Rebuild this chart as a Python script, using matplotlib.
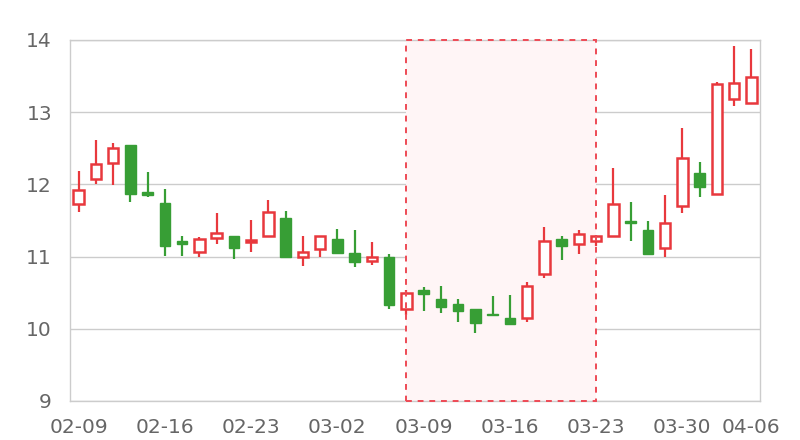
import matplotlib
matplotlib.use("Agg")
import matplotlib.pyplot as plt
from matplotlib.patches import Rectangle
import numpy as np

dates = ["02-09", "02-10", "02-11", "02-12", "02-13",
         "02-16", "02-17", "02-18", "02-19", "02-20",
         "02-23", "02-24", "02-25", "02-26", "02-27",
         "03-02", "03-03", "03-04", "03-05", "03-06",
         "03-09", "03-10", "03-11", "03-12", "03-13",
         "03-16", "03-17", "03-18", "03-19", "03-20",
         "03-23", "03-24", "03-25", "03-26", "03-27",
         "03-30", "03-31", "04-01", "04-02", "04-06"]

opens  = [11.73, 12.08, 12.29, 12.54, 11.90, 11.74, 11.21, 11.06, 11.26, 11.29,
          11.20, 11.29, 11.54, 11.00, 11.10, 11.24, 11.05, 10.94, 11.00, 10.27,
          10.54, 10.41, 10.34, 10.28, 10.21, 10.15, 10.15, 10.76, 11.25, 11.18,
          11.22, 11.29, 11.49, 11.37, 11.12, 11.70, 12.16, 11.87, 13.18, 13.13]
closes = [11.92, 12.28, 12.50, 11.87, 11.85, 11.15, 11.18, 11.24, 11.32, 11.12,
          11.23, 11.62, 10.99, 11.06, 11.28, 11.05, 10.92, 11.00, 10.33, 10.49,
          10.48, 10.30, 10.25, 10.08, 10.19, 10.07, 10.59, 11.21, 11.15, 11.31,
          11.28, 11.73, 11.46, 11.04, 11.47, 12.36, 11.97, 13.39, 13.41, 13.49]
highs  = [12.19, 12.61, 12.57, 12.55, 12.17, 11.94, 11.29, 11.27, 11.61, 11.29,
          11.51, 11.78, 11.63, 11.28, 11.28, 11.38, 11.37, 11.20, 11.04, 10.54,
          10.58, 10.59, 10.41, 10.28, 10.46, 10.47, 10.65, 11.41, 11.29, 11.37,
          11.30, 12.23, 11.76, 11.50, 11.85, 12.78, 12.31, 13.42, 13.91, 13.87]
lows   = [11.62, 12.00, 11.99, 11.75, 11.83, 11.01, 11.01, 11.00, 11.18, 10.97,
          11.06, 11.29, 10.99, 10.87, 11.00, 11.05, 10.86, 10.89, 10.27, 10.19,
          10.24, 10.22, 10.09, 9.94, 10.18, 10.06, 10.09, 10.71, 10.95, 11.04,
          11.15, 11.29, 11.21, 11.04, 11.00, 11.60, 11.83, 11.87, 13.08, 13.13]

yticks = [9, 10, 11, 12, 13, 14]
label_idx = [0, 5, 10, 15, 20, 25, 30, 35, 39]
area_start, area_end = "03-06", "03-23"

RED = "#e8383d"
GREEN = "#379e35"

fig = plt.figure(figsize=(8, 4.4), dpi=100)
ax = fig.add_axes([70/800, 39/440, 690/800, 361/440])

x = np.arange(len(dates))
w = 0.62
for i in x:
    o, c, h, l = opens[i], closes[i], highs[i], lows[i]
    up = c >= o
    col = RED if up else GREEN
    lo_b, hi_b = min(o, c), max(o, c)
    ax.plot([i, i], [hi_b, h], color=col, lw=1.6, zorder=3, solid_capstyle="butt")
    ax.plot([i, i], [l, lo_b], color=col, lw=1.6, zorder=3, solid_capstyle="butt")
    hgt = max(hi_b - lo_b, 0.02)
    if up:
        ax.add_patch(Rectangle((i - w/2, lo_b), w, hgt, facecolor="white",
                               edgecolor=col, lw=1.8, zorder=4))
    else:
        ax.add_patch(Rectangle((i - w/2, lo_b), w, hgt, facecolor=col,
                               edgecolor=col, lw=1.0, zorder=4))

a0 = dates.index(area_start)
a1 = dates.index(area_end)
ax.add_patch(Rectangle((a0, 9), a1 - a0, 5, facecolor="#fff5f6", edgecolor="none", zorder=1))
ax.add_patch(Rectangle((a0, 9), a1 - a0, 5, facecolor="none", edgecolor="#ee4a55",
                       lw=1.4, ls=(0, (3, 3)), zorder=5, clip_on=False))

ax.set_xlim(-0.5, len(dates) - 0.5)
ax.set_ylim(9, 14)
ax.set_yticks(yticks)
ax.set_yticklabels([str(v) for v in yticks])
ax.set_xticks(label_idx)
ax.set_xticklabels([dates[i] for i in label_idx])
ax.tick_params(axis="both", length=0, labelsize=14.5, colors="#666666")
ax.tick_params(axis="y", pad=13)
ax.tick_params(axis="x", pad=12)
ax.grid(axis="y", color="#cccccc", lw=1, zorder=0)
ax.set_axisbelow(True)
for s in ax.spines.values():
    s.set_color("#cccccc")
    s.set_linewidth(1)

fig.savefig("out.png", dpi=100)
